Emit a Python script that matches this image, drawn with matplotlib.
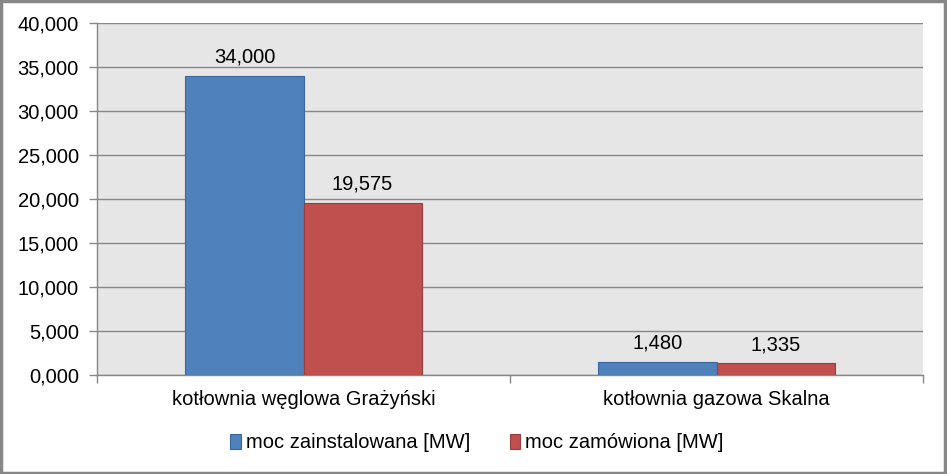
import matplotlib
matplotlib.use("Agg")
import matplotlib.pyplot as plt
import numpy as np
from matplotlib.ticker import FuncFormatter, FixedLocator
from matplotlib.patches import Rectangle

categories = ["kotłownia węglowa Grażyński", "kotłownia gazowa Skalna"]
series_names = ["moc zainstalowana [MW]", "moc zamówiona [MW]"]
installed = [34.000, 1.480]
ordered = [19.575, 1.335]
y_ticks = [0, 5, 10, 15, 20, 25, 30, 35, 40]

plt.rcParams['font.family'] = ['Liberation Sans', 'DejaVu Sans']
FS = 14.5

def fmt(v):
    return f"{v:.3f}".replace('.', ',')

fig = plt.figure(figsize=(9.47, 4.74), dpi=100)
ax = fig.add_axes([97/947, 1 - 375/474, (923 - 97)/947, (375 - 23)/474])
ax.set_facecolor('#E6E6E6')

x = np.arange(len(categories))
w = 0.286
colors = ['#4F81BD', '#C0504D']
edges = ['#3A679C', '#9B3D3A']
b1 = ax.bar(x - w/2, installed, w, color=colors[0], edgecolor=edges[0], linewidth=0.8, label=series_names[0], zorder=3)
b2 = ax.bar(x + w/2, ordered, w, color=colors[1], edgecolor=edges[1], linewidth=0.8, label=series_names[1], zorder=3)

for bars, vals in ((b1, installed), (b2, ordered)):
    for rect, v in zip(bars, vals):
        ax.annotate(fmt(v), (rect.get_x() + rect.get_width()/2, v), xytext=(0, 9.5),
                    textcoords='offset points', ha='center', va='baseline', fontsize=FS)

ax.set_xlim(-0.5, len(categories) - 0.5)
ax.set_ylim(0, 40)
ax.yaxis.set_major_locator(FixedLocator(y_ticks))
ax.yaxis.set_major_formatter(FuncFormatter(lambda v, p: fmt(v)))
ax.grid(axis='y', color='#878787', linewidth=1.0, zorder=0)
ax.set_axisbelow(True)

ax.set_xticks(x)
ax.set_xticklabels(categories, fontsize=FS)
ax.set_xticks([-0.5, 0.5, 1.5], minor=True)
ax.tick_params(axis='x', which='major', length=0, pad=11)
ax.tick_params(axis='x', which='minor', length=6, color='#878787', width=1)
ax.tick_params(axis='y', length=6, color='#878787', width=1, labelsize=FS, pad=7)

for s in ['top', 'right']:
    ax.spines[s].set_visible(False)
for s in ['left', 'bottom']:
    ax.spines[s].set_color('#878787')
    ax.spines[s].set_linewidth(1.0)

leg = fig.legend(handles=[b1, b2], labels=series_names, loc='center', bbox_to_anchor=(477/947, 1 - 443/474),
                 ncol=2, frameon=False, fontsize=FS, handlelength=0.5, handleheight=0.7,
                 handletextpad=0.25, columnspacing=2.0)

fig.patches.append(Rectangle((0.001, 0.002), 0.997, 0.996, transform=fig.transFigure,
                             fill=False, edgecolor='#878787', linewidth=2.5))

fig.savefig('out.png', dpi=100)
